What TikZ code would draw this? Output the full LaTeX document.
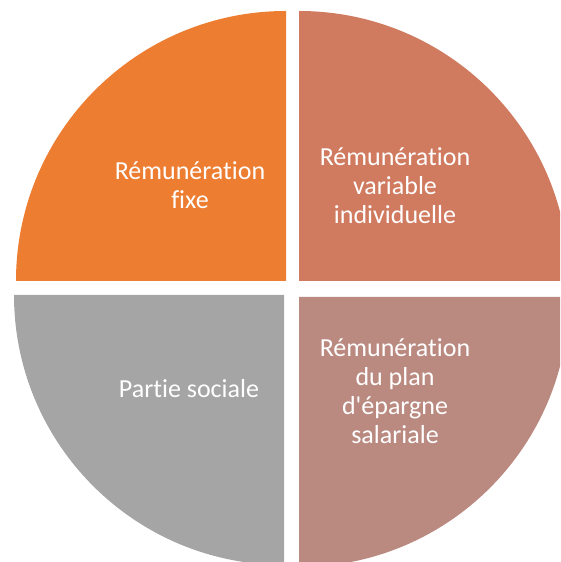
\documentclass[tikz,border=0pt]{standalone}
\usepackage{fontspec}
\setmainfont{Carlito}[Ligatures={TeXOff,CommonOff}]
\usepackage{xcolor}
\usetikzlibrary{positioning}

\definecolor{fixeorange}{HTML}{ED7D31}
\definecolor{variablesalmon}{HTML}{D07B5F}
\definecolor{socialgray}{HTML}{A5A5A5}
\definecolor{epargnemauve}{HTML}{BA8A81}

\begin{document}
\begin{tikzpicture}[
    x=1pt, y=1pt,
    label/.style={text=white, align=center, font=\fontsize{26}{29}\selectfont}
]
    \useasboundingbox (0,0) rectangle (560,562);
    \clip (0,0) rectangle (560,562);

    % Quarter discs
    \fill[fixeorange] (286,281) -- ++(-270,0) arc[start angle=180, end angle=90, radius=270] -- cycle;
    \fill[variablesalmon] (299,281) -- ++(0,270) arc[start angle=90, end angle=0, radius=270] -- cycle;
    \fill[socialgray] (284,267) -- ++(0,-270) arc[start angle=270, end angle=180, radius=270] -- cycle;
    \fill[epargnemauve] (299,265) -- ++(270,0) arc[start angle=0, end angle=-90, radius=270] -- cycle;

    % Labels
    \node[label] (fixe) at (190,377) {Rémunération\\fixe};
    \node[label] (variable) at (395,376) {Rémunération\\variable\\individuelle};
    \node[label] (sociale) at (189,173) {Partie sociale};
    \node[label] (epargne) at (395,171) {Rémunération\\du plan\\d'épargne\\salariale};
\end{tikzpicture}
\end{document}
